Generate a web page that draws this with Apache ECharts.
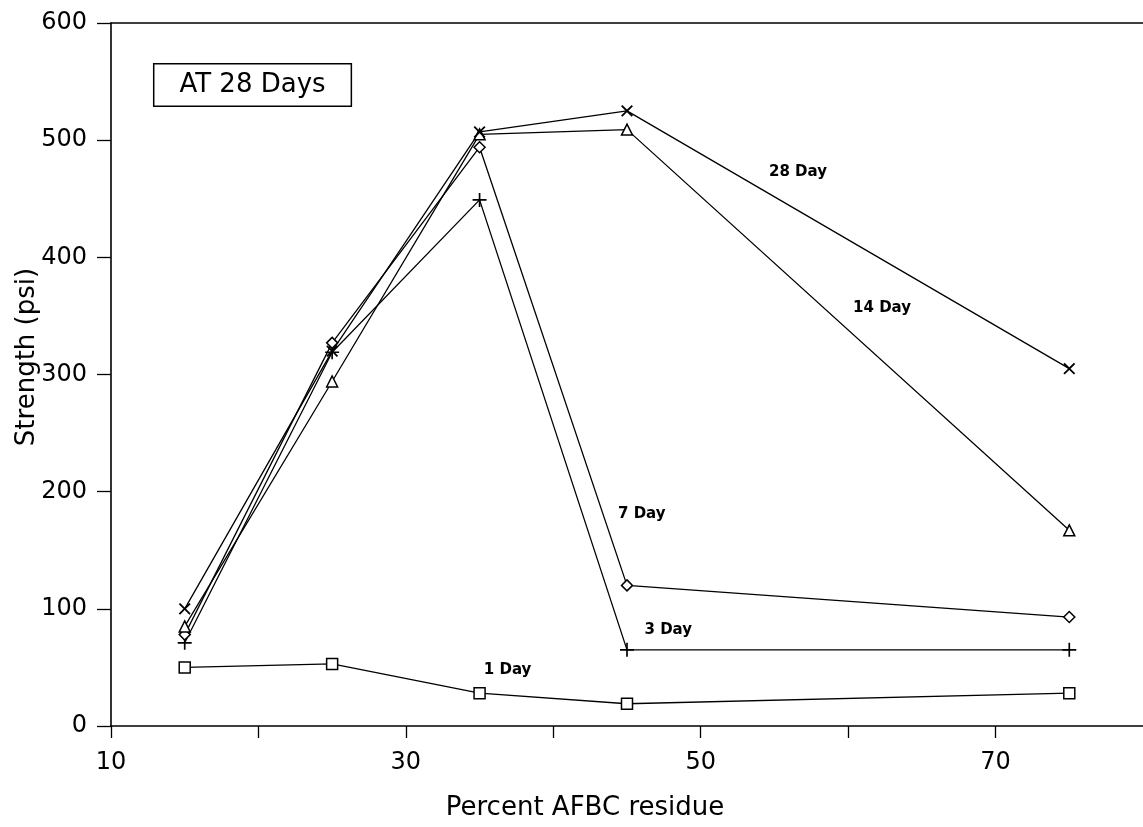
<!DOCTYPE html>
<html>
<head>
<meta charset="utf-8">
<script src="https://cdn.jsdelivr.net/npm/echarts@6/dist/echarts.min.js"></script>
<style>html,body{margin:0;padding:0;background:#fff}#c{width:1143px;height:827px}</style>
</head>
<body>
<div id="c"></div>
<script>
// Percent AFBC residue (x) vs strength in psi (y)
const day1  = [[15, 50], [25, 53], [35, 28], [45, 19], [75, 28]];
const day3  = [[15, 71], [25, 319], [35, 449], [45, 65], [75, 65]];
const day7  = [[15, 78], [25, 327], [35, 494], [45, 120], [75, 93]];
const day14 = [[15, 85], [25, 294], [35, 505], [45, 509], [75, 167]];
const day28 = [[15, 100], [25, 320], [35, 507], [45, 525], [75, 305]];
const xTickLabels = [10, 30, 50, 70];
const yTicks = [0, 100, 200, 300, 400, 500, 600];
// annotation anchors (data coordinates)
const notes = [
  ['28 Day', 56.6, 473],
  ['14 Day', 62.3, 357],
  ['7 Day', 46.0, 181],
  ['3 Day', 47.8, 82],
  ['1 Day', 36.9, 48]
];
const boxNote = ['AT 28 Days', 19.6, 547];

const FONT = 'DejaVu Sans';
const plusPath = 'path://M4.4,0H5.6V4.4H10V5.6H5.6V10H4.4V5.6H0V4.4H4.4Z';

function lineSeries(name, data, symbol, size, hollow, rotate) {
  return {
    name, type: 'line', data, symbol, symbolSize: size, symbolRotate: rotate || 0,
    showAllSymbol: true, animation: false, z: 3,
    lineStyle: { color: '#000', width: 1.3 },
    itemStyle: hollow ? { color: '#fff', borderColor: '#000', borderWidth: 1.5, opacity: 1 }
                      : { color: '#000', borderWidth: 0, opacity: 1 },
    emphasis: { disabled: true }
  };
}

const chart = echarts.init(document.getElementById('c'), null, { renderer: 'canvas' });
chart.setOption({
  animation: false,
  backgroundColor: '#fff',
  grid: { left: 111, right: 0, top: 23, bottom: 101, containLabel: false },
  xAxis: [{
    type: 'value', min: 10, max: 80, interval: 10,
    axisLine: { show: true, onZero: false, lineStyle: { color: '#000', width: 1.6 } },
    axisTick: { show: true, inside: false, length: 12, lineStyle: { color: '#000', width: 1.3 } },
    splitLine: { show: false },
    axisLabel: {
      margin: 25, color: '#000', fontFamily: FONT, fontSize: 24,
      showMaxLabel: false,
      formatter: v => (xTickLabels.indexOf(v) >= 0 ? String(v) : '')
    }
  }, {
    type: 'value', min: 10, max: 80, position: 'top',
    axisLine: { show: true, onZero: false, lineStyle: { color: '#000', width: 1.6 } },
    axisTick: { show: false }, axisLabel: { show: false }, splitLine: { show: false }
  }],
  yAxis: {
    type: 'value', min: yTicks[0], max: yTicks[yTicks.length - 1], interval: 100,
    axisLine: { show: true, onZero: false, lineStyle: { color: '#000', width: 1.6 } },
    axisTick: { show: true, inside: false, length: 14, lineStyle: { color: '#000', width: 1.3 } },
    splitLine: { show: false },
    axisLabel: { margin: 24, color: '#000', fontFamily: FONT, fontSize: 24 }
  },
  series: [
    lineSeries('1 Day', day1, 'rect', 11, true),
    lineSeries('3 Day', day3, plusPath, 14, false),
    lineSeries('7 Day', day7, 'diamond', 11, true),
    lineSeries('14 Day', day14, 'triangle', 11, true),
    lineSeries('28 Day', day28, plusPath, 15, false, 45),
    {
      type: 'scatter', symbolSize: 0, silent: true, z: 5,
      itemStyle: { opacity: 1 },
      data: notes.map(n => ({ value: [n[1], n[2]], name: n[0] })),
      label: {
        show: true, position: 'inside', formatter: p => p.name,
        color: '#000', fontFamily: FONT, fontSize: 15, fontWeight: 'bold', opacity: 1
      }
    },
    {
      type: 'scatter', symbolSize: 0, silent: true, z: 5,
      itemStyle: { opacity: 1 },
      data: [{ value: [boxNote[1], boxNote[2]], name: boxNote[0] }],
      label: {
        show: true, position: 'inside', formatter: p => p.name, opacity: 1,
        color: '#000', fontFamily: FONT, fontSize: 26, lineHeight: 30,
        borderColor: '#000', borderWidth: 1.5, padding: [6, 25, 5, 25], backgroundColor: '#fff'
      }
    }
  ],
  graphic: [
    {
      type: 'text', x: 27, y: 357, rotation: Math.PI / 2,
      style: { text: 'Strength (psi)', fill: '#000', font: '26px "DejaVu Sans"', textAlign: 'center', textVerticalAlign: 'middle' }
    },
    {
      type: 'text', x: 585, y: 808,
      style: { text: 'Percent AFBC residue', fill: '#000', font: '26px "DejaVu Sans"', textAlign: 'center', textVerticalAlign: 'middle' }
    }
  ]
});
</script>
</body>
</html>
